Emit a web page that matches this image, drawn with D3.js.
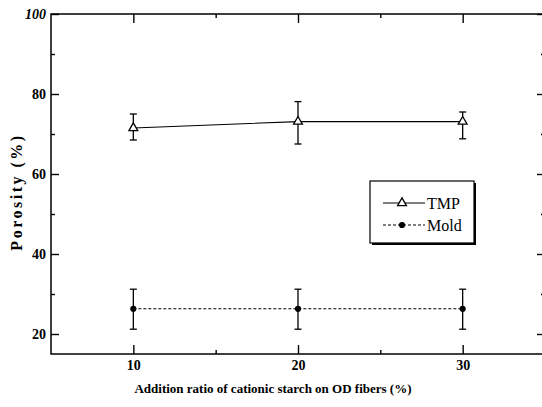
<!DOCTYPE html>
<html>
<head>
<meta charset="utf-8">
<script src="https://cdn.jsdelivr.net/npm/d3@7"></script>
<style>
  body { margin: 0; background: #fff; }
  svg text { font-family: "Liberation Serif", "Times New Roman", serif; }
</style>
</head>
<body>
<div id="chart"></div>
<script>
// values
const ratios = [10, 20, 30];
const tmpMean = [71.5, 73.1, 73.1];
const tmpHigh = [75.0, 78.1, 75.5];
const tmpLow = [68.5, 67.5, 68.8];
const moldMean = [26.3, 26.3, 26.3];
const moldHigh = [31.2, 31.2, 31.2];
const moldLow = [21.2, 21.2, 21.2];

const xTicks = [10, 20, 30];
const xMinor = [15, 25];
const yTicks = [20, 40, 60, 80, 100];
const yMinor = [30, 50, 70, 90];
const seriesNames = ['TMP', 'Mold'];

const W = 542, H = 407;
const m = {left: 51, top: 14, right: 545, bottom: 354};
const serif = '"Liberation Serif", "Times New Roman", serif';

const svg = d3.select('#chart').append('svg')
  .attr('width', W).attr('height', H);

const x = d3.scaleLinear().domain([5, 35]).range([m.left, m.right]);
const y = d3.scaleLinear().domain([15, 100]).range([m.bottom, m.top]);

// frame
svg.append('rect')
  .attr('x', m.left).attr('y', m.top)
  .attr('width', m.right - m.left).attr('height', m.bottom - m.top)
  .attr('fill', 'none').attr('stroke', '#000').attr('stroke-width', 1.5);

function styleAxis(g) {
  g.attr('font-family', serif);
  g.select('.domain').remove();
  g.selectAll('line').attr('stroke', '#000').attr('stroke-width', 1.4);
  g.selectAll('text')
    .attr('fill', '#000')
    .style('font-size', '14px')
    .style('font-weight', 'bold');
}

// major + minor ticks, inward on all four sides
svg.append('g').attr('transform', `translate(0,${m.bottom})`)
  .call(d3.axisBottom(x).tickValues(xTicks).tickSize(-9).tickPadding(6).tickFormat(d3.format('d')))
  .call(styleAxis);
svg.append('g').attr('transform', `translate(0,${m.bottom})`)
  .call(d3.axisBottom(x).tickValues(xMinor).tickSize(-4).tickFormat(''))
  .call(styleAxis);
svg.append('g').attr('transform', `translate(0,${m.top})`)
  .call(d3.axisTop(x).tickValues(xTicks).tickSize(-9).tickFormat(''))
  .call(styleAxis);
svg.append('g').attr('transform', `translate(0,${m.top})`)
  .call(d3.axisTop(x).tickValues(xMinor).tickSize(-4).tickFormat(''))
  .call(styleAxis);

svg.append('g').attr('transform', `translate(${m.left},0)`)
  .call(d3.axisLeft(y).tickValues(yTicks).tickSize(-8).tickPadding(5).tickFormat(d3.format('d')))
  .call(styleAxis)
  .selectAll('text')
  .style('font-style', d => d === 100 ? 'italic' : 'normal');
svg.append('g').attr('transform', `translate(${m.left},0)`)
  .call(d3.axisLeft(y).tickValues(yMinor).tickSize(-4).tickFormat(''))
  .call(styleAxis);
svg.append('g').attr('transform', `translate(${m.right},0)`)
  .call(d3.axisRight(y).tickValues(yTicks).tickSize(-8).tickFormat(''))
  .call(styleAxis);
svg.append('g').attr('transform', `translate(${m.right},0)`)
  .call(d3.axisRight(y).tickValues(yMinor).tickSize(-4).tickFormat(''))
  .call(styleAxis);

// axis titles
svg.append('text')
  .attr('x', 273).attr('y', 393)
  .attr('text-anchor', 'middle')
  .style('font-family', serif)
  .style('font-size', '13px').style('font-weight', 'bold')
  .text('Addition ratio of cationic starch on OD fibers (%)');

svg.append('text')
  .attr('transform', 'translate(22,192) rotate(-90)')
  .attr('text-anchor', 'middle')
  .style('font-family', serif)
  .style('font-size', '16px').style('font-weight', 'bold')
  .style('letter-spacing', '2.5px')
  .text('Porosity (%)');

const line = d3.line().x(d => x(d[0])).y(d => y(d[1]));

function drawSeries(mean, low, high, dash, marker) {
  const pts = ratios.map((r, i) => [r, mean[i]]);
  svg.append('path')
    .attr('d', line(pts))
    .attr('fill', 'none').attr('stroke', '#000').attr('stroke-width', 1.1)
    .attr('stroke-dasharray', dash);

  const eb = svg.append('g').selectAll('g').data(ratios).join('g');
  eb.append('line')
    .attr('x1', d => x(d)).attr('x2', d => x(d))
    .attr('y1', (d, i) => y(high[i])).attr('y2', (d, i) => y(low[i]))
    .attr('stroke', '#000').attr('stroke-width', 1.3);
  [high, low].forEach(arr => {
    eb.append('line')
      .attr('x1', d => x(d) - 3.5).attr('x2', d => x(d) + 3.5)
      .attr('y1', (d, i) => y(arr[i])).attr('y2', (d, i) => y(arr[i]))
      .attr('stroke', '#000').attr('stroke-width', 1.3);
  });

  svg.append('g').selectAll('path').data(pts).join('path')
    .attr('transform', d => `translate(${x(d[0])},${y(d[1])})`)
    .call(marker);
}

function triangle(sel) {
  sel.attr('d', d3.symbol(d3.symbolTriangle, 34))
    .attr('fill', '#fff').attr('stroke', '#000').attr('stroke-width', 1.3);
}
function dot(sel) {
  sel.attr('d', d3.symbol(d3.symbolCircle, 30))
    .attr('fill', '#000');
}

drawSeries(tmpMean, tmpLow, tmpHigh, null, triangle);
drawSeries(moldMean, moldLow, moldHigh, '3,2', dot);

// legend
const lg = svg.append('g').attr('transform', 'translate(370,181)');
lg.append('rect').attr('x', 2).attr('y', 2).attr('width', 104).attr('height', 62).attr('fill', '#000');
lg.append('rect').attr('x', 0).attr('y', 0).attr('width', 104).attr('height', 62)
  .attr('fill', '#fff').attr('stroke', '#000').attr('stroke-width', 1.2);

const rows = lg.selectAll('g.row').data(seriesNames).join('g')
  .attr('class', 'row')
  .attr('transform', (d, i) => `translate(0,${22 + i * 22})`);
rows.append('line')
  .attr('x1', 13).attr('x2', 55).attr('y1', 0).attr('y2', 0)
  .attr('stroke', '#000').attr('stroke-width', 1)
  .attr('stroke-dasharray', (d, i) => i === 0 ? null : '3,2');
rows.append('path')
  .attr('transform', 'translate(32,0)')
  .each(function(d, i) { d3.select(this).call(i === 0 ? triangle : dot); });
rows.append('text')
  .attr('x', 57).attr('y', 6)
  .style('font-family', serif)
  .style('font-size', '16px')
  .text(d => d);
</script>
</body>
</html>
